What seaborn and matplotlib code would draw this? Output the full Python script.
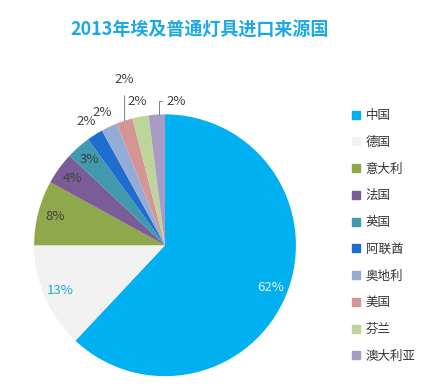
import matplotlib
matplotlib.use("Agg")
import matplotlib.pyplot as plt
from matplotlib.lines import Line2D
import numpy as np
import seaborn as sns

title = "2013年埃及普通灯具进口来源国"
countries = ["中国", "德国", "意大利", "法国", "英国", "阿联酋", "奥地利", "美国", "芬兰", "澳大利亚"]
shares = [62, 13, 8, 4, 3, 2, 2, 2, 2, 2]
colors = ["#00B0F0", "#F2F2F2", "#8FA84B", "#7A5C96", "#4199AE",
          "#1F6ECF", "#94ACD6", "#D69595", "#BDD59B", "#A99BC4"]
label_colors = ["#F2F2F2", "#1CA9E6"] + ["#404040"] * 8

sns.set_theme(style="white")
plt.rcParams["font.family"] = ["Noto Sans CJK SC", "DejaVu Sans"]

fig = plt.figure(figsize=(4.39, 3.89), dpi=100)
fig.patch.set_facecolor("white")
ax = fig.add_axes([0.0774, 0.033, 0.597, 0.673])
palette = sns.color_palette(colors)

wedges, _ = ax.pie(shares, colors=palette, startangle=90, counterclock=False,
                   radius=1.0, wedgeprops=dict(linewidth=0))
ax.set_xlim(-1, 1)
ax.set_ylim(-1, 1)
ax.set_aspect("equal")
ax.axis("off")

for i, (w, v) in enumerate(zip(wedges, shares)):
    mid = np.deg2rad((w.theta1 + w.theta2) / 2)
    txt = f"{v}%"
    if v >= 3:
        r = 0.87
        ax.text(r * np.cos(mid), r * np.sin(mid), txt, ha="center", va="center",
                fontsize=9.5, color=label_colors[i])
    elif countries[i] == "美国":
        ex, ey = np.cos(mid), np.sin(mid)
        ax.annotate(txt, xy=(ex, ey), xytext=(ex, 1.27), ha="center", va="center",
                    fontsize=9.5, color=label_colors[i], annotation_clip=False,
                    arrowprops=dict(arrowstyle="-", color="#808080", lw=0.7,
                                    shrinkA=5, shrinkB=0))
    elif countries[i] == "澳大利亚":
        ex, ey = 0.7 * np.cos(mid) + 0.3 * np.cos(np.deg2rad(w.theta1)), np.sin(mid)
        ax.annotate(txt, xy=(ex, ey), xytext=(0.01, 1.1), ha="left", va="center",
                    fontsize=9.5, color=label_colors[i], annotation_clip=False,
                    arrowprops=dict(arrowstyle="-", color="#808080", lw=0.7,
                                    connectionstyle="angle,angleA=0,angleB=90",
                                    shrinkA=1, shrinkB=0))
    else:
        r = 1.12
        ax.text(r * np.cos(mid), r * np.sin(mid), txt, ha="center", va="center",
                fontsize=9.5, color=label_colors[i])

fig.text(200 / 439, 1 - 30 / 389, title, ha="center", va="center",
         fontsize=13, fontweight="bold", color="#1CA9E6")

handles = [Line2D([0], [0], marker="s", linestyle="none", markersize=6,
                  markerfacecolor=c, markeredgecolor=c) for c in palette]
leg = fig.legend(handles, countries, loc="upper left",
                 bbox_to_anchor=(352 / 439, 1 - 109 / 389), frameon=False,
                 fontsize=9, labelspacing=1.1, handlelength=0.7,
                 handletextpad=0.4, borderpad=0, borderaxespad=0)
for t in leg.get_texts():
    t.set_color("#333333")

fig.savefig("out.png", dpi=100, facecolor="white")
